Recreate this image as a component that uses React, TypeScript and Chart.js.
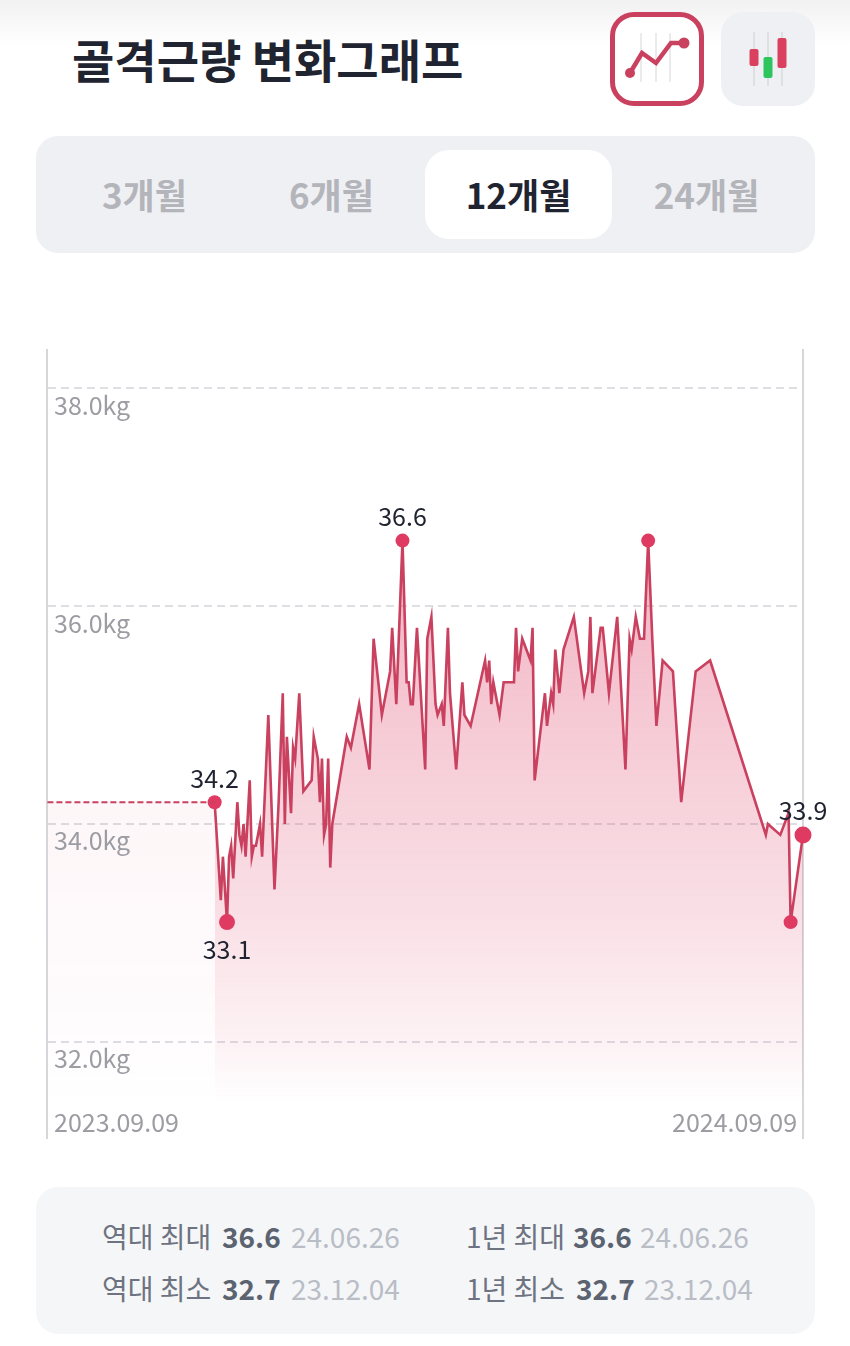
import React, { useEffect, useRef } from "react";
import { Chart, registerables } from "chart.js";

Chart.register(...registerables);

const FONT = '"Noto Sans CJK KR", "Noto Sans", sans-serif';

const title = "골격근량 변화그래프";
const periods = ["3개월", "6개월", "12개월", "24개월"];
const activePeriod = "12개월";
const startDate = "2023.09.09";
const endDate = "2024.09.09";

// days since 2023-09-09
const days = [
  81, 84, 85, 87, 88, 89, 90, 92, 93, 94, 95, 96, 98, 99, 100, 101, 103, 104, 107, 110,
  112, 114, 115, 116, 118, 119, 120, 122, 124, 128, 129, 131, 132, 133, 134, 135, 136, 137, 138, 145,
  147, 151, 156, 158, 162, 166, 167, 169, 172, 174, 175, 176, 177, 179, 183, 184, 186, 188, 189, 191,
  192, 194, 195, 198, 201, 202, 205, 212, 213, 214, 215, 216, 219, 221, 226, 227, 228, 230, 234, 235,
  236, 241, 242, 244, 245, 246, 248, 250, 255, 260, 262, 263, 264, 268, 269, 272, 276, 280, 282, 283,
  285, 287, 289, 291, 293, 295, 298, 303, 307, 314, 321, 348, 349, 355, 359, 360, 366,
];
const weights = [
  34.2, 33.3, 33.7, 33.1, 33.7, 33.8, 33.5, 34.2, 33.9, 33.8, 34.0, 33.7, 34.4, 33.7, 33.8, 33.8, 34.0, 33.7, 35.0, 33.4,
  34.2, 35.2, 34.0, 34.8, 34.1, 34.7, 34.6, 35.2, 34.3, 34.4, 34.8, 34.6, 34.2, 34.6, 33.9, 34.0, 34.6, 33.6, 34.0, 34.8,
  34.7, 35.1, 34.5, 35.7, 35.0, 35.4, 35.8, 35.1, 36.6, 35.3, 35.3, 35.1, 35.1, 35.8, 34.5, 35.7, 35.9, 35.1, 35.0, 35.1,
  34.9, 35.8, 35.2, 34.5, 35.3, 35.0, 34.9, 35.5, 35.3, 35.5, 35.1, 35.3, 35.0, 35.3, 35.3, 35.8, 35.4, 35.7, 35.5, 35.8,
  34.4, 35.2, 34.9, 35.2, 35.1, 35.6, 35.2, 35.6, 35.9, 35.2, 35.4, 35.9, 35.2, 35.8, 35.8, 35.2, 35.9, 34.5, 35.7, 35.6,
  35.9, 35.7, 35.7, 36.6, 35.7, 34.9, 35.5, 35.4, 34.2, 35.4, 35.5, 33.9, 34.0, 33.9, 34.1, 33.1, 33.9,
];
const leadDays = [0, 81];
const leadWeights = [34.2, 34.2];

const yTicks = [32, 34, 36, 38];
const xTickDays = [3.2, 363.1];
const xTickLabels = [startDate, endDate];

const markerDays = [81, 87, 172, 291, 360, 366];
const markerSizes = [7, 8, 7, 7, 7, 8.5];
const calloutDays = [81, 87, 172, 366];
const calloutTexts = ["34.2", "33.1", "36.6", "33.9"];
const calloutShift = [-24, 27, -24, -24];

const stats = [
  { x: 102, y: 1237, label: "역대 최대", value: "36.6", date: "24.06.26", vx: 222, dx: 291 },
  { x: 466, y: 1237, label: "1년 최대", value: "36.6", date: "24.06.26", vx: 573, dx: 640 },
  { x: 102, y: 1289, label: "역대 최소", value: "32.7", date: "23.12.04", vx: 222, dx: 291 },
  { x: 466, y: 1289, label: "1년 최소", value: "32.7", date: "23.12.04", vx: 576, dx: 644 },
];

const RED = "#df3a62";
const LINE = "#c9415f";

const points = days.map((d, i) => ({ x: d, y: weights[i] }));
const leadPoints = leadDays.map((d, i) => ({ x: d, y: leadWeights[i] }));

const abs = (left: number, top: number, extra: React.CSSProperties = {}): React.CSSProperties => ({
  position: "absolute",
  left,
  top,
  ...extra,
});

export default function App() {
  const ref = useRef<HTMLCanvasElement | null>(null);

  useEffect(() => {
    document.body.style.margin = "0";
    const canvas = ref.current!;
    const ctx = canvas.getContext("2d")!;
    const OFFSET = 300;

    const mainGrad = ctx.createLinearGradient(0, 540 - OFFSET, 0, 1105 - OFFSET);
    mainGrad.addColorStop(0, "rgba(220,60,100,0.40)");
    mainGrad.addColorStop(0.3, "rgba(220,60,100,0.28)");
    mainGrad.addColorStop(0.65, "rgba(220,60,100,0.17)");
    mainGrad.addColorStop(0.88, "rgba(220,60,100,0.07)");
    mainGrad.addColorStop(1, "rgba(220,60,100,0)");

    const leadGrad = ctx.createLinearGradient(0, 802 - OFFSET, 0, 1105 - OFFSET);
    leadGrad.addColorStop(0, "rgba(220,60,100,0.045)");
    leadGrad.addColorStop(0.6, "rgba(220,60,100,0.025)");
    leadGrad.addColorStop(1, "rgba(220,60,100,0)");

    const callouts = {
      id: "callouts",
      afterDatasetsDraw(c: any) {
        const g = c.ctx;
        g.save();
        g.font = `400 25px ${FONT}`;
        g.fillStyle = "#1f2230";
        g.textAlign = "center";
        g.textBaseline = "middle";
        calloutDays.forEach((d, i) => {
          const w = weights[days.indexOf(d)];
          g.fillText(calloutTexts[i], c.scales.x.getPixelForValue(d), c.scales.y.getPixelForValue(w) + calloutShift[i]);
        });
        g.restore();
      },
    };

    const tickFont = { family: FONT, size: 25, weight: "400" as const };

    const chart = new Chart(canvas, {
      type: "line",
      data: {
        datasets: [
          {
            data: leadPoints,
            borderColor: LINE,
            borderWidth: 2,
            borderDash: [6, 3],
            pointRadius: 0,
            fill: "start",
            backgroundColor: leadGrad,
            tension: 0,
            clip: false as any,
          },
          {
            data: points,
            borderColor: LINE,
            borderWidth: 2.6,
            fill: "start",
            backgroundColor: mainGrad,
            tension: 0,
            clip: false as any,
            pointBackgroundColor: RED,
            pointBorderWidth: 0,
            pointRadius: (c: any) => {
              const k = markerDays.indexOf(days[c.dataIndex]);
              return k >= 0 ? markerSizes[k] : 0;
            },
          },
        ],
      },
      options: {
        animation: false,
        responsive: false,
        devicePixelRatio: 1,
        layout: { padding: { left: 47, right: 47, top: 50, bottom: 32 } },
        plugins: { legend: { display: false }, tooltip: { enabled: false }, title: { display: false } },
        scales: {
          x: {
            type: "linear",
            position: "bottom",
            min: -0.2,
            max: 366,
            afterBuildTicks: (s: any) => {
              s.ticks = xTickDays.map((value) => ({ value }));
            },
            afterFit: (s: any) => {
              s.height = 0;
            },
            grid: { display: false, drawTicks: false },
            border: { display: false },
            ticks: {
              autoSkip: false,
              mirror: true,
              padding: 1,
              align: "inner",
              maxRotation: 0,
              minRotation: 0,
              color: "#9c9ca3",
              font: tickFont,
              z: 1,
              callback: (_v: any, i: number) => xTickLabels[i],
            },
          },
          y: {
            type: "linear",
            position: "left",
            min: 31.119,
            max: 38.349,
            afterBuildTicks: (s: any) => {
              s.ticks = yTicks.map((value) => ({ value }));
            },
            afterFit: (s: any) => {
              s.width = 0;
            },
            grid: { color: "#dedee3", lineWidth: 2, drawTicks: false },
            border: { display: true, color: "#d6d6db", width: 2, dash: [8, 5] },
            ticks: {
              mirror: true,
              padding: 7,
              labelOffset: 17,
              color: "#9c9ca3",
              font: tickFont,
              z: 1,
              callback: (v: any) => `${Number(v).toFixed(1)}kg`,
            },
          },
          yEdge: {
            type: "linear",
            position: "right",
            min: 31.119,
            max: 38.349,
            afterFit: (s: any) => {
              s.width = 0;
            },
            grid: { display: false, drawTicks: false },
            border: { display: true, color: "#d6d6db", width: 2 },
            ticks: { display: false },
          },
        },
      },
      plugins: [callouts],
    } as any);
    return () => chart.destroy();
  }, []);

  const textBase: React.CSSProperties = { fontFamily: FONT, whiteSpace: "nowrap", lineHeight: 1 };

  return (
    <div style={{ position: "relative", width: 850, height: 1346, background: "#fff", overflow: "hidden", fontFamily: FONT }}>
      <div style={abs(0, 0, { width: 850, height: 45, background: "linear-gradient(#f1f1f2,#ffffff)" })} />
      <div style={abs(72, 35, { ...textBase, fontSize: 46, fontWeight: 700, color: "#1f2430" })}>{title}</div>

      <div style={abs(610, 12, { width: 94, height: 94, boxSizing: "border-box", border: "5px solid #c9415f", borderRadius: 24, background: "#fff" })} />
      <svg style={abs(610, 12)} width={94} height={94} viewBox="0 0 94 94">
        {[31, 46, 60].map((x) => (
          <line key={x} x1={x} x2={x} y1={21} y2={70} stroke="#e4e4e8" strokeWidth={1.5} />
        ))}
        <polyline points="20,61 32,41 46,51 61,31 74,31" fill="none" stroke="#c9415f" strokeWidth={4.5} />
        <circle cx={20} cy={61} r={5} fill="#c9415f" />
        <circle cx={74} cy={31} r={5.5} fill="#c9415f" />
      </svg>

      <div style={abs(721, 12, { width: 94, height: 94, borderRadius: 22, background: "#eff0f4" })} />
      <svg style={abs(721, 12)} width={94} height={94} viewBox="0 0 94 94">
        {[33, 47, 61].map((x) => (
          <line key={x} x1={x} x2={x} y1={20} y2={74} stroke="#d9dade" strokeWidth={1.5} />
        ))}
        <rect x={28.5} y={37} width={9} height={17} rx={2} fill="#d9415f" />
        <rect x={42.5} y={45} width={9} height={21} rx={2} fill="#2fc55e" />
        <rect x={56.5} y={26} width={9} height={30} rx={2} fill="#d9415f" />
      </svg>

      <div style={abs(36, 136, { width: 779, height: 117, borderRadius: 22, background: "#eff0f4" })} />
      <div style={abs(425, 150, { width: 187, height: 89, borderRadius: 24, background: "#fff" })} />
      {periods.map((p, i) => (
        <div
          key={p}
          style={abs([51, 238, 425, 613][i], 176, {
            ...textBase,
            width: 187,
            textAlign: "center",
            fontSize: 35,
            fontWeight: 700,
            color: p === activePeriod ? "#1f2430" : "#b4b5ba",
          })}
        >
          {p}
        </div>
      ))}

      <canvas ref={ref} width={850} height={870} style={abs(0, 300, { display: "block", width: 850, height: 870 })} />

      <div style={abs(36, 1187, { width: 779, height: 147, borderRadius: 22, background: "#f5f6f8" })} />
      {stats.map((s) => (
        <React.Fragment key={s.label}>
          <div style={abs(s.x, s.y - 15, { ...textBase, fontSize: 28, color: "#6d7380" })}>{s.label}</div>
          <div style={abs(s.vx, s.y - 15, { ...textBase, fontSize: 28, fontWeight: 700, color: "#5b6270" })}>{s.value}</div>
          <div style={abs(s.dx, s.y - 15, { ...textBase, fontSize: 28, color: "#b9bdc6" })}>{s.date}</div>
        </React.Fragment>
      ))}
    </div>
  );
}
